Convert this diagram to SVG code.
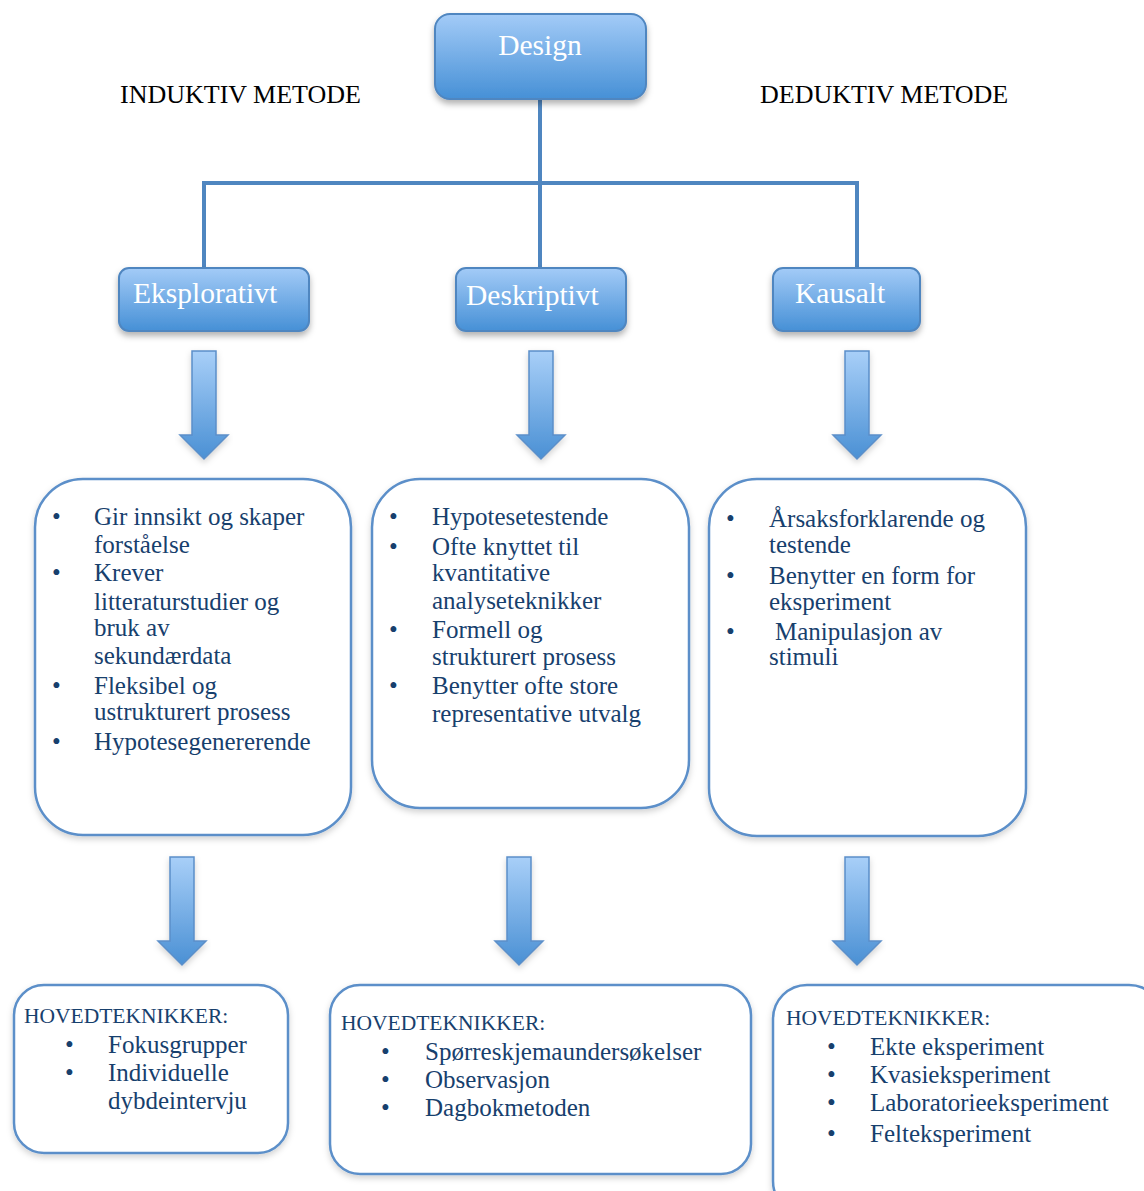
<svg xmlns="http://www.w3.org/2000/svg" width="1144" height="1191" viewBox="0 0 1144 1191">
<defs>
<linearGradient id="gb" x1="0" y1="0" x2="0" y2="1">
<stop offset="0" stop-color="#a3cbf7"/>
<stop offset="1" stop-color="#4690d6"/>
</linearGradient>
<linearGradient id="ga" x1="0" y1="0" x2="0" y2="1">
<stop offset="0" stop-color="#a8cff8"/>
<stop offset="1" stop-color="#4a90d4"/>
</linearGradient>
<filter id="sh" x="-10%" y="-10%" width="120%" height="130%">
<feDropShadow dx="0" dy="4" stdDeviation="3" flood-color="#000" flood-opacity="0.3"/>
</filter>
<filter id="sh2" x="-10%" y="-10%" width="120%" height="130%">
<feDropShadow dx="0" dy="3" stdDeviation="3" flood-color="#000" flood-opacity="0.18"/>
</filter>
<path id="arrow" d="M-12,0 H12 V84 H24 L0,108 L-24,84 H-12 Z"/>
</defs>
<style>
.hb{fill:url(#gb);stroke:#4f86c0;stroke-width:2;filter:url(#sh)}
.ht{font-family:"Liberation Serif",serif;font-size:29.5px;fill:#fff}
.lbl{font-family:"Liberation Serif",serif;font-size:26px;fill:#000}
.bx{fill:#fff;stroke:#5b8fc9;stroke-width:2.5;filter:url(#sh2)}
.t{font-family:"Liberation Serif",serif;font-size:25px;fill:#17406d}
.hd{font-size:21.5px}
.ar{fill:url(#ga);stroke:#5b8fc9;stroke-width:1.5;filter:url(#sh2)}
.cn{fill:none;stroke:#4f86c0;stroke-width:4}
</style>
<rect width="1144" height="1191" fill="#fff"/>
<g id="connectors">
<path class="cn" d="M540,99 V268 M204,268 V183 H857 V268"/>
<use href="#arrow" class="ar" x="204" y="351"/>
<use href="#arrow" class="ar" x="541" y="351"/>
<use href="#arrow" class="ar" x="857" y="351"/>
<use href="#arrow" class="ar" x="182" y="857"/>
<use href="#arrow" class="ar" x="519" y="857"/>
<use href="#arrow" class="ar" x="857" y="857"/>
</g>
<g id="labels">
<text class="lbl" x="120" y="103">INDUKTIV METODE</text>
<text class="lbl" x="760" y="103">DEDUKTIV METODE</text>
</g>
<g id="design">
<rect class="hb" x="435" y="14" width="211" height="85" rx="15"/>
<text class="ht" x="540" y="55" text-anchor="middle">Design</text>
</g>
<g id="eksplorativt">
<rect class="hb" x="119" y="268" width="190" height="63" rx="10"/>
<text class="ht" x="133" y="303">Eksplorativt</text>
</g>
<g id="deskriptivt">
<rect class="hb" x="456" y="268" width="170" height="63" rx="10"/>
<text class="ht" x="466" y="305">Deskriptivt</text>
</g>
<g id="kausalt">
<rect class="hb" x="773" y="268" width="147" height="63" rx="10"/>
<text class="ht" x="795" y="303">Kausalt</text>
</g>
<g id="box-eksplorativt">
<rect class="bx" x="35" y="479" width="316" height="356" rx="48"/>
<text class="t">
<tspan x="52" y="525">•</tspan><tspan x="94" y="525">Gir innsikt og skaper</tspan>
<tspan x="94" y="553">forståelse</tspan>
<tspan x="52" y="581">•</tspan><tspan x="94" y="581">Krever</tspan>
<tspan x="94" y="610">litteraturstudier og</tspan>
<tspan x="94" y="636">bruk av</tspan>
<tspan x="94" y="664">sekundærdata</tspan>
<tspan x="52" y="694">•</tspan><tspan x="94" y="694">Fleksibel og</tspan>
<tspan x="94" y="720">ustrukturert prosess</tspan>
<tspan x="52" y="750">•</tspan><tspan x="94" y="750">Hypotesegenererende</tspan>
</text>
</g>
<g id="box-deskriptivt">
<rect class="bx" x="372" y="479" width="317" height="329" rx="48"/>
<text class="t">
<tspan x="389" y="525">•</tspan><tspan x="432" y="525">Hypotesetestende</tspan>
<tspan x="389" y="555">•</tspan><tspan x="432" y="555">Ofte knyttet til</tspan>
<tspan x="432" y="581">kvantitative</tspan>
<tspan x="432" y="609">analyseteknikker</tspan>
<tspan x="389" y="638">•</tspan><tspan x="432" y="638">Formell og</tspan>
<tspan x="432" y="665">strukturert prosess</tspan>
<tspan x="389" y="694">•</tspan><tspan x="432" y="694">Benytter ofte store</tspan>
<tspan x="432" y="722">representative utvalg</tspan>
</text>
</g>
<g id="box-kausalt">
<rect class="bx" x="709" y="479" width="317" height="357" rx="48"/>
<text class="t">
<tspan x="726" y="527">•</tspan><tspan x="769" y="527">Årsaksforklarende og</tspan>
<tspan x="769" y="553">testende</tspan>
<tspan x="726" y="584">•</tspan><tspan x="769" y="584">Benytter en form for</tspan>
<tspan x="769" y="610">eksperiment</tspan>
<tspan x="726" y="640">•</tspan><tspan x="775" y="640">Manipulasjon av</tspan>
<tspan x="769" y="665">stimuli</tspan>
</text>
</g>
<g id="tech-eksplorativt">
<rect class="bx" x="14" y="985" width="274" height="168" rx="30"/>
<text class="t">
<tspan class="hd" x="24" y="1023">HOVEDTEKNIKKER:</tspan>
<tspan x="65" y="1053">•</tspan><tspan x="108" y="1053">Fokusgrupper</tspan>
<tspan x="65" y="1081">•</tspan><tspan x="108" y="1081">Individuelle</tspan>
<tspan x="108" y="1109">dybdeintervju</tspan>
</text>
</g>
<g id="tech-deskriptivt">
<rect class="bx" x="330" y="985" width="421" height="189" rx="30"/>
<text class="t">
<tspan class="hd" x="341" y="1030">HOVEDTEKNIKKER:</tspan>
<tspan x="381" y="1060">•</tspan><tspan x="425" y="1060">Spørreskjemaundersøkelser</tspan>
<tspan x="381" y="1088">•</tspan><tspan x="425" y="1088">Observasjon</tspan>
<tspan x="381" y="1116">•</tspan><tspan x="425" y="1116">Dagbokmetoden</tspan>
</text>
</g>
<g id="tech-kausalt">
<rect class="bx" x="773" y="985" width="390" height="230" rx="34"/>
<text class="t">
<tspan class="hd" x="786" y="1025">HOVEDTEKNIKKER:</tspan>
<tspan x="827" y="1055">•</tspan><tspan x="870" y="1055">Ekte eksperiment</tspan>
<tspan x="827" y="1083">•</tspan><tspan x="870" y="1083">Kvasieksperiment</tspan>
<tspan x="827" y="1111">•</tspan><tspan x="870" y="1111">Laboratorieeksperiment</tspan>
<tspan x="827" y="1142">•</tspan><tspan x="870" y="1142">Felteksperiment</tspan>
</text>
</g>
</svg>
